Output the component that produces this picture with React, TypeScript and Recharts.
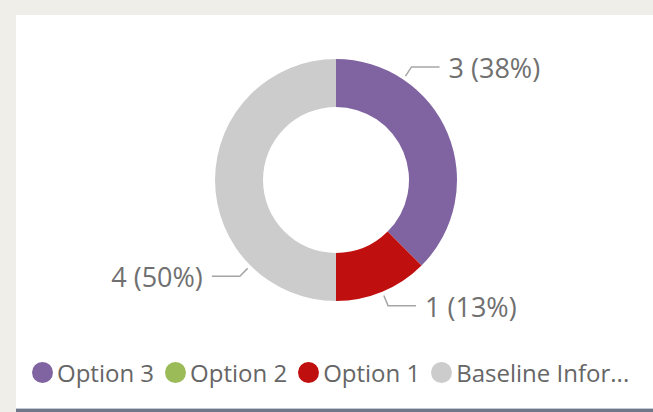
import React from 'react';
import { PieChart, Pie, Cell, Legend } from 'recharts';

const categories = ['Option 3', 'Option 2', 'Option 1', 'Baseline Information'];
const counts = [3, 0, 1, 4];
const colors = ['#8064a2', '#9bbb59', '#c00f0f', '#cccccc'];

const data = categories.map((name, i) => ({ name, value: counts[i] }));

const RAD = Math.PI / 180;
const FONT = '"Open Sans", "Noto Sans", sans-serif';

const shorten = (s: string) => (s.length > 14 ? s.slice(0, 14) + '...' : s);

// outside labels with a bent leader line; wide slices get their label a quarter of the way in
const renderLabel = (props: any) => {
  const { cx, cy, outerRadius, startAngle, endAngle, midAngle, value, percent } = props;
  if (!value) return null;
  const span = Math.abs(endAngle - startAngle);
  const a = span > 90 ? startAngle + 0.25 * (endAngle - startAngle) : midAngle;
  const cos = Math.cos(a * RAD);
  const sin = Math.sin(a * RAD);
  const x1 = cx + (outerRadius + 4) * cos;
  const y1 = cy - (outerRadius + 4) * sin;
  const x2 = cx + (outerRadius + 15) * cos;
  const y2 = cy - (outerRadius + 15) * sin;
  const right = cos >= 0;
  const x3 = x2 + (right ? 28 : -28);
  return (
    <g>
      <polyline
        points={`${x1},${y1} ${x2},${y2} ${x3},${y2}`}
        fill="none"
        stroke="#a6a6a6"
        strokeWidth={1.5}
      />
      <text
        x={x3 + (right ? 9 : -9)}
        y={y2 + 11}
        textAnchor={right ? 'start' : 'end'}
        fill="#707070"
        fontSize={27}
        fontFamily={FONT}
      >
        {`${value} (${Math.round(percent * 100)}%)`}
      </text>
    </g>
  );
};

// legend keeps the data order (Option 3 first)
const renderLegend = () => (
  <div style={{ display: 'flex', alignItems: 'center', fontFamily: FONT, fontSize: 24, color: '#666' }}>
    {categories.map((name, i) => (
      <div key={name} style={{ display: 'flex', alignItems: 'center', marginRight: 11 }}>
        <span
          style={{
            display: 'inline-block',
            width: 21,
            height: 21,
            borderRadius: '50%',
            background: colors[i],
            marginRight: 4,
          }}
        />
        <span style={{ whiteSpace: 'nowrap' }}>{shorten(name)}</span>
      </div>
    ))}
  </div>
);

export default function App() {
  return (
    <div style={{ position: 'absolute', left: 0, top: 0, width: 653, height: 412, background: '#efeee9', overflow: 'hidden' }}>
      <div style={{ position: 'absolute', left: 16, top: 15, right: 0, height: 393, background: '#fff' }} />
      <div style={{ position: 'absolute', left: 16, top: 408, right: 0, height: 1, background: '#c3c8d1' }} />
      <div style={{ position: 'absolute', left: 16, top: 409, right: 0, height: 3, background: '#6f788a' }} />
      <div style={{ position: 'absolute', left: 0, top: 0 }}>
        <PieChart width={653} height={412} margin={{ top: 0, right: 0, bottom: 0, left: 0 }}>
          <Pie
            data={data}
            dataKey="value"
            nameKey="name"
            cx={336}
            cy={180}
            innerRadius={73}
            outerRadius={121}
            startAngle={90}
            endAngle={-270}
            stroke="none"
            label={renderLabel}
            labelLine={false}
            isAnimationActive={false}
          >
            {data.map((d, i) => (
              <Cell key={d.name} fill={colors[i]} />
            ))}
          </Pie>
          <Legend
            content={renderLegend}
            wrapperStyle={{ position: 'absolute', left: 32, top: 356, width: 'auto' }}
          />
        </PieChart>
      </div>
    </div>
  );
}
